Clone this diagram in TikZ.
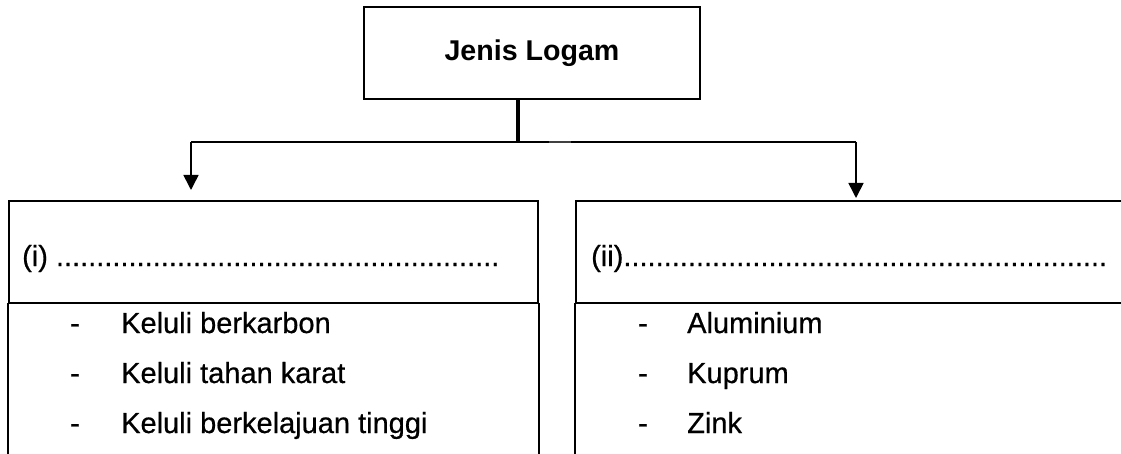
\documentclass[tikz,border=0pt]{standalone}
\usepackage{fontspec}
\setmainfont{Liberation Sans}[UprightFeatures={FakeBold=0.6}]
\usetikzlibrary{arrows.meta}
\tikzset{
  boxline/.style={line width=2pt, line cap=rect},
  conn/.style={line width=1.6pt},
  arr/.style={conn, -{Triangle[width=15pt,length=15pt]}},
  txt/.style={anchor=base west, inner sep=0pt, font=\fontsize{29}{33}\selectfont},
  bul/.style={anchor=base, inner sep=0pt, font=\fontsize{29}{33}\selectfont},
}
\begin{document}
\begin{tikzpicture}[x=1pt,y=-1pt]
\useasboundingbox (0,0) rectangle (1121,454);
% top box
\node[draw, line width=2.4pt, minimum width=336pt, minimum height=92pt, inner sep=0pt,
      font=\bfseries\fontsize{28.6}{32}\selectfont] (top) at (532,53) {Jenis Logam};
% header cells
\node[draw, boxline, minimum width=529pt, minimum height=102pt, inner sep=0pt] (hdrL) at (273.5,252) {};
\node[draw, boxline, minimum width=560pt, minimum height=102pt, inner sep=0pt] (hdrR) at (856,252) {};
% open list sides
\draw[boxline] (hdrL.south west) -- ++(0,160);
\draw[boxline] (hdrL.south east) -- ++(0,160);
\draw[boxline] (hdrR.south west) -- ++(0,160);
% header texts
\node[txt] (ti) at (22,266) {(i) .......................................................};
\node[txt] (tii) at (591,266) {(ii)............................................................};
% list texts left
\node[bul] (d1) at (75,333) {-};
\node[bul] (d2) at (75,383) {-};
\node[bul] (d3) at (75,433) {-};
\node[txt] (l1) at (121,333) {Keluli berkarbon};
\node[txt] (l2) at (121,383) {Keluli tahan karat};
\node[txt] (l3) at (121,433) {Keluli berkelajuan tinggi};
% list texts right
\node[bul] (e1) at (643,333) {-};
\node[bul] (e2) at (643,383) {-};
\node[bul] (e3) at (643,433) {-};
\node[txt] (r1) at (687,333) {Aluminium};
\node[txt] (r2) at (687,383) {Kuprum};
\node[txt] (r3) at (687,433) {Zink};
% connectors
\coordinate (J) at (518,142);
\coordinate (aL) at (191,142);
\coordinate (aR) at (856,142);
\draw[line width=3.5pt] (top.south -| J) -- (J);
\draw[conn] (aL) -- (aR);
\draw[line width=2.6pt, black!75] (549,142) -- (571,142);
\draw[arr, shorten >=10pt] (aL) -- (aL |- hdrL.north);
\draw[arr, shorten >=2pt] (aR) -- (aR |- hdrR.north);
\end{tikzpicture}
\end{document}
